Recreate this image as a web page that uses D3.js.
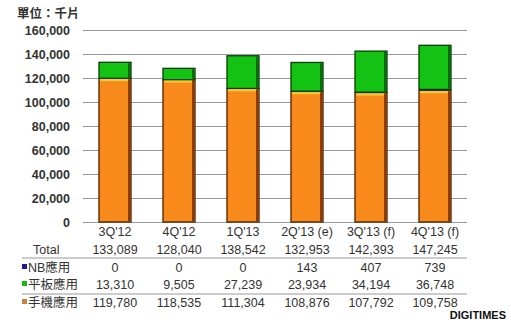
<!DOCTYPE html>
<html>
<head>
<meta charset="utf-8">
<script src="https://cdn.jsdelivr.net/npm/d3@7"></script>
<style>
  body { margin: 0; background: #fff; }
  svg text { font-family: "Liberation Sans", Arial, "Noto Sans CJK TC", sans-serif; fill: #333; }
</style>
</head>
<body>
<script>
const quarters = ["3Q'12", "4Q'12", "1Q'13", "2Q'13 (e)", "3Q'13 (f)", "4Q'13 (f)"];
const totals = [133089, 128040, 138542, 132953, 142393, 147245];
const nbValues = [0, 0, 0, 143, 407, 739];
const tabletValues = [13310, 9505, 27239, 23934, 34194, 36748];
const phoneValues = [119780, 118535, 111304, 108876, 107792, 109758];
const yTicks = [0, 20000, 40000, 60000, 80000, 100000, 120000, 140000, 160000];

const width = 511;
const height = 323;

const svg = d3.select("body").append("svg")
  .attr("width", width)
  .attr("height", height);

const x = d3.scaleBand()
  .domain(quarters)
  .range([83, 467])
  .paddingInner(0.5)
  .paddingOuter(0.25);

const y = d3.scaleLinear()
  .domain([0, 160000])
  .range([222, 30]);

const fmt = d3.format(",");

// unit label
svg.append("text")
  .attr("x", 17).attr("y", 18)
  .attr("font-size", 12.5).attr("font-weight", "bold")
  .text("單位：千片");

// gridlines + y labels
const yAxis = d3.axisLeft(y)
  .tickValues(yTicks)
  .tickSize(-384)
  .tickFormat(fmt)
  .tickPadding(13);

svg.append("g")
  .attr("transform", "translate(83,0)")
  .call(yAxis)
  .call(g => g.select(".domain").remove())
  .call(g => g.selectAll("line").attr("stroke", "#9a9a9a"))
  .call(g => g.selectAll("text")
    .attr("font-size", 12.5)
    .attr("font-weight", "bold")
    .attr("fill", "#333"));

// stacked bars
const rows = quarters.map((q, i) => ({
  q, phone: phoneValues[i], nb: nbValues[i], tablet: tabletValues[i]
}));
const stack = d3.stack().keys(["phone", "nb", "tablet"])(rows);
const fills = { phone: "#f88a1c", nb: "#1a1a8c", tablet: "#14c214" };
const strokes = { phone: "#4a2000", nb: "#0a0a40", tablet: "#073d07" };

const layers = svg.selectAll("g.layer")
  .data(stack)
  .join("g")
  .attr("class", "layer");

layers.selectAll("rect.seg")
  .data(d => d.map(p => ({ key: d.key, p })))
  .join("rect")
  .attr("class", "seg")
  .attr("x", d => x(d.p.data.q))
  .attr("y", d => y(d.p[1]))
  .attr("width", x.bandwidth())
  .attr("height", d => Math.max(0, y(d.p[0]) - y(d.p[1])))
  .attr("fill", d => fills[d.key])
  .attr("stroke", d => strokes[d.key])
  .attr("stroke-width", d => d.key === "nb" ? 0 : 1.3);

// right-side shading for 3D look
layers.selectAll("rect.shade")
  .data(d => d.key === "nb" ? [] : d.map(p => ({ key: d.key, p })))
  .join("rect")
  .attr("class", "shade")
  .attr("x", d => x(d.p.data.q) + x.bandwidth() - 3)
  .attr("y", d => y(d.p[1]) + 1)
  .attr("width", 2.5)
  .attr("height", d => Math.max(0, y(d.p[0]) - y(d.p[1]) - 1))
  .attr("fill", d => d.key === "phone" ? "#8a3c05" : "#0b6a0b");

// yellow highlight at the top of phone segments
svg.selectAll("rect.hl")
  .data(rows)
  .join("rect")
  .attr("class", "hl")
  .attr("x", d => x(d.q) + 1)
  .attr("y", d => y(d.phone) + 0.7)
  .attr("width", x.bandwidth() - 4)
  .attr("height", 2.2)
  .attr("fill", "#f2c83a");

// category labels
const cx = q => x(q) + x.bandwidth() / 2;
svg.selectAll("text.cat")
  .data(quarters)
  .join("text")
  .attr("class", "cat")
  .attr("x", cx)
  .attr("y", 236)
  .attr("text-anchor", "middle")
  .attr("font-size", 12.5)
  .text(d => d);

// data table
const tableRows = [
  { label: "Total", vals: totals, y: 254, marker: null },
  { label: "NB應用", vals: nbValues, y: 272, marker: "#1a1a8c" },
  { label: "平板應用", vals: tabletValues, y: 289, marker: "#14b814" },
  { label: "手機應用", vals: phoneValues, y: 307, marker: "#c8843c" }
];

tableRows.forEach(r => {
  svg.append("text")
    .attr("x", r.marker ? 28 : 33)
    .attr("y", r.y)
    .attr("font-size", 12.5)
    .text(r.label);
  if (r.marker) {
    svg.append("rect")
      .attr("x", 22).attr("y", r.y - 8)
      .attr("width", 5).attr("height", 5)
      .attr("fill", r.marker);
  }
  svg.selectAll(null)
    .data(r.vals)
    .join("text")
    .attr("x", (d, i) => cx(quarters[i]))
    .attr("y", r.y)
    .attr("text-anchor", "middle")
    .attr("font-size", 12.5)
    .text(d => fmt(d));
});

// table separator lines
[258, 294].forEach(ly => {
  svg.append("line")
    .attr("x1", 22).attr("x2", 467)
    .attr("y1", ly).attr("y2", ly)
    .attr("stroke", "#999");
});

// source logo
svg.append("text")
  .attr("x", 506).attr("y", 319)
  .attr("text-anchor", "end")
  .attr("font-size", 11)
  .attr("font-weight", "bold")
  .style("fill", "#111")
  .text("DIGITIMES");
</script>
</body>
</html>
